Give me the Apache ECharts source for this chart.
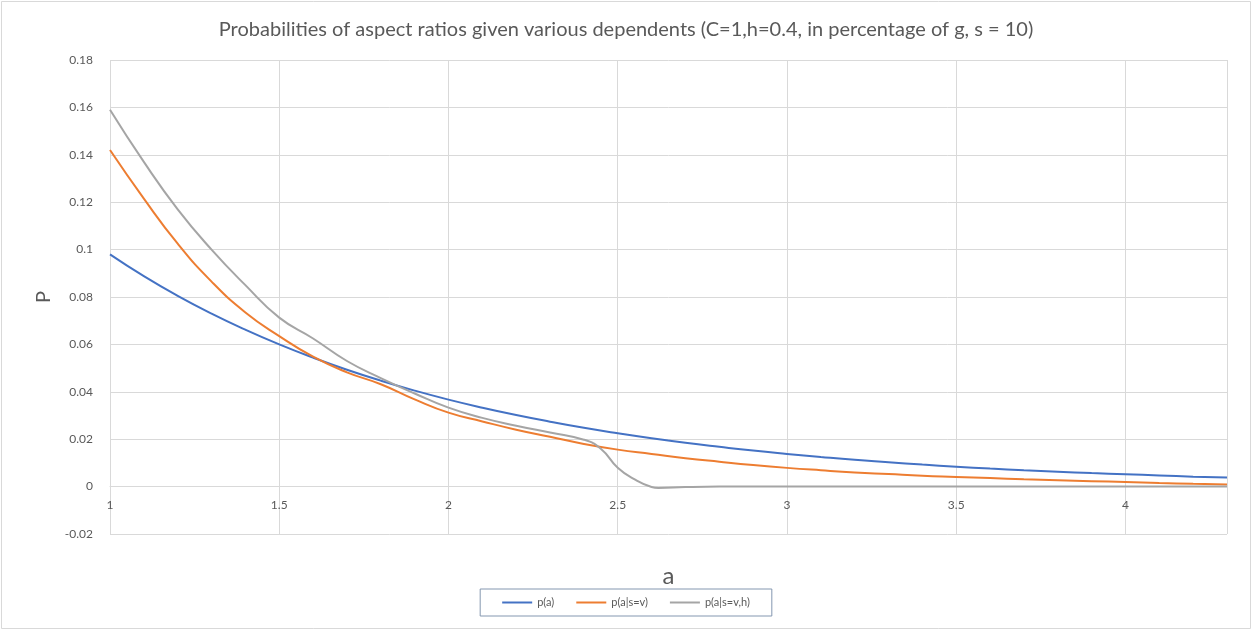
<!DOCTYPE html>
<html>
<head>
<meta charset="utf-8">
<script src="https://cdn.jsdelivr.net/npm/echarts@6/dist/echarts.min.js"></script>
<style>
html, body { margin: 0; padding: 0; background: #fff; }
#chart { width: 1252px; height: 630px; }
</style>
</head>
<body>
<div id="chart"></div>
<script>
// a values shared by p(a) and p(a|s=v)
const aValues = [1.0, 1.1, 1.2, 1.3, 1.4, 1.5, 1.6, 1.7, 1.8, 1.9, 2.0, 2.1, 2.2, 2.3, 2.4, 2.5, 2.6,
    2.7, 2.8, 2.9, 3.0, 3.1, 3.2, 3.3, 3.4, 3.5, 3.6, 3.7, 3.8, 3.9, 4.0, 4.1, 4.2, 4.3];
const pA = [0.098, 0.0888, 0.0805, 0.0730, 0.0662, 0.0600, 0.0544, 0.0493, 0.0447, 0.0405, 0.0367,
    0.0333, 0.0302, 0.0274, 0.0248, 0.0225, 0.0204, 0.0185, 0.0168, 0.0152, 0.0138, 0.0125, 0.0113,
    0.0103, 0.0093, 0.0084, 0.0076, 0.0069, 0.0063, 0.0057, 0.0052, 0.0047, 0.0042, 0.0038];
const pAsv = [0.142, 0.1215, 0.1025, 0.0865, 0.0735, 0.0635, 0.0548, 0.0482, 0.0432, 0.0368, 0.0312,
    0.0275, 0.0240, 0.0210, 0.0180, 0.0156, 0.0138, 0.0120, 0.0105, 0.0091, 0.0079, 0.0069, 0.0060,
    0.0053, 0.0046, 0.0041, 0.0036, 0.0031, 0.0027, 0.0023, 0.0019, 0.0015, 0.0012, 0.0009];
// p(a|s=v,h) has its own sampling around the drop
const grayA = [1.0, 1.1, 1.2, 1.3, 1.4, 1.5, 1.6, 1.7, 1.8, 1.9, 2.0, 2.1, 2.2, 2.3, 2.4, 2.45, 2.5,
    2.55, 2.6, 2.62, 2.7, 2.8, 3.0, 3.5, 4.0, 4.3];
const pAsvh = [0.159, 0.137, 0.117, 0.100, 0.0850, 0.0713, 0.0625, 0.0530, 0.0458, 0.0393, 0.0333,
    0.0290, 0.0257, 0.0228, 0.0198, 0.0160, 0.0080, 0.0030, -0.0002, -0.0006, -0.0002, 0, 0, 0, 0, 0];
const seriesNames = ['p(a)', 'p(a|s=v)', 'p(a|s=v,h)'];
const colorList = ['#4472C4', '#ED7D31', '#A5A5A5'];

const textColor = '#595959';
const font = 'Lato, "Open Sans", sans-serif';

const yMin = -0.02, yMax = 0.18;
const gridTop = 60, gridBottom = 96, chartHeight = 630;

function pairs(xs, ys) {
    let out = [];
    for (let i = 0; i < xs.length; i++) {
        out.push([xs[i], ys[i]]);
    }
    return out;
}

const seriesData = [pairs(aValues, pA), pairs(aValues, pAsv), pairs(grayA, pAsvh)];

// x axis sits on the zero line like in Excel: shift it up from the grid bottom
const plotHeight = chartHeight - gridTop - gridBottom;
const zeroOffset = -plotHeight * (0 - yMin) / (yMax - yMin);

let chart = echarts.init(document.getElementById('chart'));
chart.setOption({
    animation: false,
    backgroundColor: '#fff',
    title: {
        text: 'Probabilities of aspect ratios given various dependents (C=1,h=0.4, in percentage of g, s = 10)',
        left: 'center',
        top: 15,
        textStyle: {
            color: textColor,
            fontFamily: font,
            fontSize: 20,
            fontWeight: 'normal'
        }
    },
    legend: {
        data: seriesNames,
        bottom: 14,
        left: 'center',
        padding: [8, 22],
        itemGap: 22,
        itemWidth: 30,
        itemHeight: 2,
        icon: 'rect',
        borderColor: '#8497B0',
        borderWidth: 1,
        textStyle: {
            color: textColor,
            fontFamily: font,
            fontSize: 11
        }
    },
    grid: {
        left: 110,
        right: 25,
        top: gridTop,
        bottom: gridBottom,
        outerBoundsMode: 'none'
    },
    xAxis: {
        type: 'value',
        min: 1,
        max: 4.3,
        interval: 0.5,
        offset: zeroOffset,
        name: 'a',
        nameLocation: 'middle',
        nameGap: 78,
        nameTextStyle: {
            color: textColor,
            fontFamily: font,
            fontSize: 24
        },
        axisLine: { onZero: false, lineStyle: { color: '#D9D9D9' } },
        axisTick: { show: false },
        axisLabel: {
            color: textColor,
            fontFamily: font,
            fontSize: 12,
            margin: 13,
            showMaxLabel: false
        },
        splitLine: { show: true, lineStyle: { color: '#D9D9D9' } }
    },
    yAxis: {
        type: 'value',
        min: yMin,
        max: yMax,
        interval: 0.02,
        name: 'P',
        nameLocation: 'middle',
        nameGap: 56,
        nameTextStyle: {
            color: textColor,
            fontFamily: font,
            fontSize: 20
        },
        axisLine: { show: false },
        axisTick: { show: false },
        axisLabel: {
            color: textColor,
            fontFamily: font,
            fontSize: 12,
            margin: 17,
            formatter: function (v) {
                return String(Math.round(v * 100) / 100);
            }
        },
        splitLine: { show: true, lineStyle: { color: '#D9D9D9' } }
    },
    series: seriesNames.map(function (name, i) {
        return {
            name: name,
            type: 'line',
            data: seriesData[i],
            smooth: true,
            symbol: 'none',
            lineStyle: { color: colorList[i], width: 2 },
            itemStyle: { color: colorList[i] }
        };
    }),
    graphic: [{
        type: 'rect',
        shape: { x: 1.5, y: 1.5, width: 1249, height: 627 },
        style: { fill: 'none', stroke: '#D9D9D9', lineWidth: 1 },
        silent: true
    }]
});
</script>
</body>
</html>
